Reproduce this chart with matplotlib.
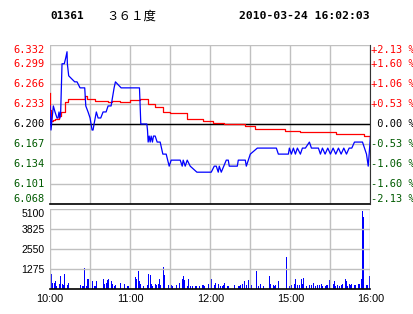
import matplotlib
matplotlib.use("Agg")
import matplotlib.pyplot as plt

# price line (minute from 10:00, price)
t_price = [0, 0.75, 2.5, 3.75, 5.25, 6, 6.75, 7.5, 8, 9, 10.7, 11.8, 12.75, 13, 14, 18.5,
           20.25, 22.5, 26, 26.8, 28.5, 30, 31.5, 32.25, 33, 34.7, 36, 38, 39.75, 42, 43.5,
           45.75, 48, 49, 53.25, 67, 68, 72.5, 73, 73.5, 74.25, 75, 75.75, 76.7, 77.5, 78.75,
           80.25, 82.5, 84.5, 87, 89.25, 90.75, 97.5, 99, 99.75, 101.25, 102.75, 105, 110,
           120.75, 123, 124.5, 126, 126.75, 128.25, 132, 133.5, 134.25, 140.25, 141, 146.25,
           147, 150, 155.25, 169.5, 171, 178.5, 179.25, 180.75, 182.25, 183.75, 185.25, 187.5,
           189, 191.25, 194.25, 195.75, 201, 202.5, 204, 206, 208, 210, 212, 214, 216, 218,
           220, 222, 224, 226, 228, 234, 237, 238.3, 240]
price = [6.23, 6.19, 6.23, 6.22, 6.21, 6.21, 6.22, 6.21, 6.22, 6.30, 6.30, 6.31, 6.32, 6.30,
         6.28, 6.27, 6.27, 6.26, 6.26, 6.23, 6.22, 6.21, 6.19, 6.19, 6.20, 6.22, 6.21, 6.21,
         6.22, 6.22, 6.23, 6.23, 6.26, 6.27, 6.26, 6.26, 6.20, 6.20, 6.19, 6.17, 6.18, 6.17,
         6.18, 6.17, 6.18, 6.18, 6.17, 6.17, 6.15, 6.15, 6.13, 6.14, 6.14, 6.13, 6.14, 6.13,
         6.14, 6.13, 6.12, 6.12, 6.13, 6.13, 6.12, 6.13, 6.12, 6.14, 6.14, 6.13, 6.13, 6.14,
         6.14, 6.13, 6.15, 6.16, 6.16, 6.15, 6.15, 6.16, 6.15, 6.16, 6.15, 6.16, 6.15, 6.16,
         6.16, 6.17, 6.16, 6.16, 6.15, 6.16, 6.15, 6.16, 6.15, 6.16, 6.15, 6.16, 6.15, 6.16,
         6.15, 6.16, 6.16, 6.17, 6.17, 6.15, 6.13, 6.18]

# average price line
t_avg = [0, 0.3, 0.75, 2, 4, 7, 8.25, 11.25, 13.5, 26, 26.25, 27.75, 33.75, 43.5, 46.5,
         52.5, 60, 67.5, 73.5, 78.75, 84.75, 90, 97.5, 102.75, 111, 114.75, 120, 122.25,
         129.75, 130.5, 142.5, 146.25, 153.75, 165, 176, 187.5, 213.75, 214, 232.5, 235, 240]
avg = [6.252, 6.224, 6.205, 6.207, 6.209, 6.214, 6.220, 6.237, 6.242, 6.242, 6.246, 6.242,
       6.239, 6.237, 6.238, 6.237, 6.240, 6.242, 6.234, 6.229, 6.220, 6.219, 6.219, 6.209,
       6.209, 6.205, 6.205, 6.202, 6.202, 6.200, 6.200, 6.196, 6.192, 6.192, 6.189, 6.187,
       6.187, 6.184, 6.184, 6.180, 6.177]

# volume bars
t_vol = [0, 1, 2, 3, 4, 5, 7, 8, 9, 10, 11, 13, 14, 23, 24, 25, 26, 27, 28, 29, 32, 33, 34,
         35, 40, 41, 42, 43, 44, 46, 47, 48, 49, 53, 56, 58, 59, 64, 65, 66, 67, 68, 70, 73,
         74, 75, 76, 77, 79, 80, 81, 82, 83, 85, 86, 89, 90, 91, 92, 95, 97, 99, 100, 101,
         103, 104, 105, 107, 109, 110, 112, 114, 115, 116, 119, 120, 121, 123, 124, 126, 128,
         129, 130, 131, 133, 134, 138, 141, 142, 143, 144, 146, 147, 149, 151, 155, 156, 158,
         160, 164, 165, 167, 168, 169, 171, 177, 179, 180, 181, 183, 184, 185, 187, 188, 189,
         190, 192, 194, 196, 197, 199, 200, 202, 203, 204, 206, 207, 208, 209, 210, 212, 213,
         214, 215, 217, 218, 219, 221, 222, 223, 224, 225, 226, 228, 229, 231, 232, 233, 234,
         235, 237, 238, 239, 240]
vol = [320, 910, 380, 340, 470, 170, 320, 790, 320, 210, 910, 255, 380, 255, 170, 170, 1320,
       170, 640, 600, 470, 170, 170, 470, 640, 320, 380, 530, 600, 470, 320, 170, 210, 380,
       320, 170, 170, 720, 600, 1100, 470, 320, 170, 210, 910, 850, 320, 170, 320, 255, 320,
       600, 255, 1360, 850, 210, 170, 255, 170, 255, 380, 600, 790, 530, 170, 600, 170, 170,
       170, 170, 170, 255, 210, 170, 320, 380, 640, 210, 380, 320, 170, 170, 210, 380, 170,
       170, 255, 170, 170, 255, 320, 470, 255, 530, 210, 1100, 170, 300, 170, 810, 320, 255,
       170, 255, 470, 2020, 170, 210, 210, 320, 600, 210, 255, 600, 320, 680, 170, 210, 255,
       340, 170, 210, 255, 320, 170, 170, 210, 255, 530, 210, 320, 470, 170, 210, 170, 255,
       320, 600, 510, 170, 320, 255, 320, 255, 210, 300, 320, 600, 4950, 4610, 255, 210, 810,
       320]

price_ticks = [6.068, 6.101, 6.134, 6.167, 6.200, 6.233, 6.266, 6.299, 6.332]
pct_labels = ["-2.13 %", "-1.60 %", "-1.06 %", "-0.53 %", " 0.00 %",
              "+0.53 %", "+1.06 %", "+1.60 %", "+2.13 %"]
vol_ticks = [0, 1275, 2550, 3825, 5100]
time_ticks = [0, 60, 120, 180, 240]
time_labels = ["10:00", "11:00", "12:00", "15:00", "16:00"]

W, H = 414, 314
grid_c = "#c0c0c0"
green = "#005a00"
fig = plt.figure(figsize=(W / 100, H / 100), dpi=100)

def tick_color(v):
    if v > 6.2001:
        return "red"
    if v < 6.1999:
        return green
    return "black"

def tick_va(i, n):
    # first label sits above the bottom line, last one below the top line
    if i == 0:
        return "bottom"
    if i == n - 1:
        return "top"
    return "center"

# price panel
ax1 = fig.add_axes([50 / W, (H - 203.5) / H, 320.5 / W, 159 / H])
ax1.set_xlim(0, 240)
ax1.set_ylim(6.068, 6.332)
for s in ax1.spines.values():
    s.set_visible(False)
ax1.spines["right"].set_visible(True)
ax1.spines["right"].set_color("#333333")
ax1.spines["right"].set_linewidth(0.8)
ax1.set_xticks(range(0, 241, 30))
ax1.set_xticklabels([])
ax1.set_yticks(price_ticks)
ax1.set_yticklabels(["%.3f" % v for v in price_ticks], family="DejaVu Sans Mono", fontsize=7.5)
for i, (lbl, v) in enumerate(zip(ax1.get_yticklabels(), price_ticks)):
    lbl.set_color(tick_color(v))
    lbl.set_verticalalignment(tick_va(i, len(price_ticks)))
ax1.tick_params(length=0, pad=4)
ax1.grid(True, color=grid_c, linewidth=1)
ax1.axhline(6.2, color="black", linewidth=1)
ax1.axhline(6.068, color="black", linewidth=1.2, clip_on=False)
ax1.plot(t_avg, avg, color="red", linewidth=0.9, drawstyle="steps-post")
ax1.plot(t_price, price, color="#0000ff", linewidth=0.9)
for i, (v, lbl) in enumerate(zip(price_ticks, pct_labels)):
    ax1.text(1.003, v, lbl, transform=ax1.get_yaxis_transform(), ha="left",
             va=tick_va(i, len(price_ticks)),
             family="DejaVu Sans Mono", fontsize=7.5, color=tick_color(v))

# volume panel
ax2 = fig.add_axes([50 / W, (H - 288.5) / H, 320.5 / W, 79.5 / H])
ax2.set_xlim(0, 240)
ax2.set_ylim(0, 5100)
for s in ax2.spines.values():
    s.set_visible(False)
ax2.spines["bottom"].set_visible(True)
ax2.spines["bottom"].set_color("black")
ax2.spines["bottom"].set_linewidth(1.2)
ax2.set_xticks(range(0, 241, 30))
ax2.set_xticklabels(["10:00", "", "11:00", "", "12:00", "", "15:00", "", "16:00"],
                    family="Liberation Sans", fontsize=7.8)
ax2.set_yticks(vol_ticks)
ax2.set_yticklabels([""] + [str(v) for v in vol_ticks[1:]], family="Liberation Sans", fontsize=7.5)
ax2.get_yticklabels()[-1].set_verticalalignment("top")
ax2.tick_params(length=0, pad=4)
ax2.grid(True, color=grid_c, linewidth=1)
ax2.bar(t_vol, vol, width=0.75, color="#0000ff", align="center", linewidth=0)

# header
fig.text(50 / W, 1 - 16 / H, "01361", family="DejaVu Sans Mono", fontweight="bold",
         fontsize=8, va="center", ha="left")
fig.text(106 / W, 1 - 16 / H, "３６１度", family=["Noto Sans CJK SC", "DejaVu Sans"],
         fontsize=9, va="center", ha="left")
fig.text(370 / W, 1 - 16 / H, "2010-03-24 16:02:03", family="DejaVu Sans Mono",
         fontweight="bold", fontsize=8.2, va="center", ha="right")

fig.savefig("out.png", dpi=100)
